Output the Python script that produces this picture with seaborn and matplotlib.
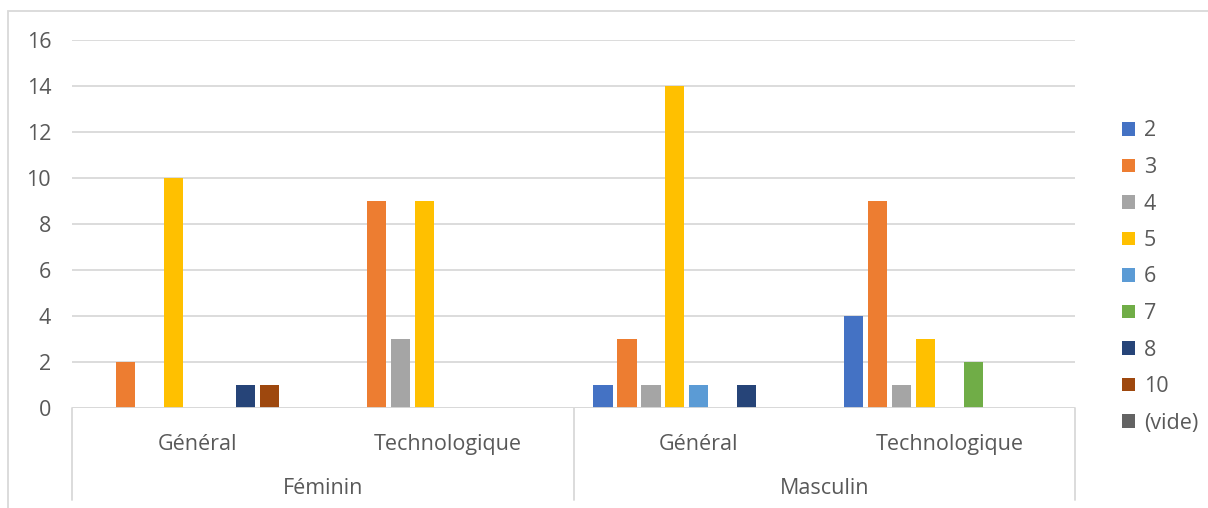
import matplotlib
matplotlib.use("Agg")
import matplotlib.pyplot as plt
import matplotlib.transforms as mtransforms
from matplotlib.patches import Patch, Rectangle
import seaborn as sns
import pandas as pd

# ---- data ----
genders = ["Féminin", "Féminin", "Masculin", "Masculin"]
filieres = ["Général", "Technologique", "Général", "Technologique"]
series = ["2", "3", "4", "5", "6", "7", "8", "10", "(vide)"]
v2 = [0, 0, 1, 4]
v3 = [2, 9, 3, 9]
v4 = [0, 3, 1, 1]
v5 = [10, 9, 14, 3]
v6 = [0, 0, 1, 0]
v7 = [0, 0, 0, 2]
v8 = [1, 0, 1, 0]
v10 = [1, 0, 0, 0]
vvide = [0, 0, 0, 0]
colors = ["#4472C4", "#ED7D31", "#A5A5A5", "#FFC000", "#5B9BD5",
          "#70AD47", "#264478", "#9E480E", "#636363"]

values = [v2, v3, v4, v5, v6, v7, v8, v10, vvide]
groups = [f"{g}|{f}" for g, f in zip(genders, filieres)]
rows = []
for s, vals in zip(series, values):
    for grp, v in zip(groups, vals):
        rows.append({"groupe": grp, "serie": s, "valeur": v})
df = pd.DataFrame(rows)

sns.set_theme(style="white")
plt.rcParams["font.family"] = ["Open Sans", "DejaVu Sans"]
txt = "#595959"
fs = 15.5

fig = plt.figure(figsize=(12.08, 5.08), dpi=100)
ax = fig.add_axes([72/1208, 1-408/508, (1075-72)/1208, (408-40)/508])

sns.barplot(data=df, x="groupe", y="valeur", hue="serie", order=groups,
            hue_order=series, palette=colors, width=0.86, gap=0.2,
            saturation=1, linewidth=0, ax=ax, legend=False, errorbar=None)

ax.set_ylim(0, 16)
ax.set_xlim(-0.5, len(groups) - 0.5)
ax.set_yticks(range(0, 17, 2))
ax.yaxis.grid(True, color="#D9D9D9", linewidth=1.3)
ax.set_axisbelow(True)
for sp in ax.spines.values():
    sp.set_visible(False)
ax.tick_params(axis="y", length=0, pad=15, labelsize=fs, labelcolor=txt)
ax.set_xticks(range(len(groups)))
ax.set_xticklabels(filieres)
ax.tick_params(axis="x", length=0, pad=19, labelsize=fs, labelcolor=txt)
ax.set_xlabel("")
ax.set_ylabel("")

trans = mtransforms.blended_transform_factory(ax.transData, ax.transAxes)
# baseline
ax.axhline(0, color="#D9D9D9", linewidth=1.3, zorder=3)
# separators between top-level groups
ybot = -(500 - 408) / 368
for xs in [-0.5, 1.5, 3.5]:
    ax.plot([xs, xs], [0, ybot], transform=trans, color="#D9D9D9",
            linewidth=1.3, clip_on=False)
# top-level labels
for xc, lab in [(0.5, genders[0]), (2.5, genders[2])]:
    ax.text(xc, -(488 - 408) / 368, lab, transform=trans, ha="center",
            va="center", fontsize=fs, color=txt)

handles = [Patch(facecolor=c, edgecolor="none") for c in colors]
leg = fig.legend(handles, series, loc="center left",
                 bbox_to_anchor=(1103/1208, 1-277/508), frameon=False,
                 fontsize=fs, labelcolor=txt, handlelength=0.6,
                 handleheight=0.6, handletextpad=0.4, labelspacing=0.72)

fig.patches.append(Rectangle((8/1208, -0.01), 1.2, 1-11/508+0.01,
                             transform=fig.transFigure, fill=False,
                             edgecolor="#D9D9D9", linewidth=1.3))

fig.savefig("out.png", dpi=100, facecolor="white")
